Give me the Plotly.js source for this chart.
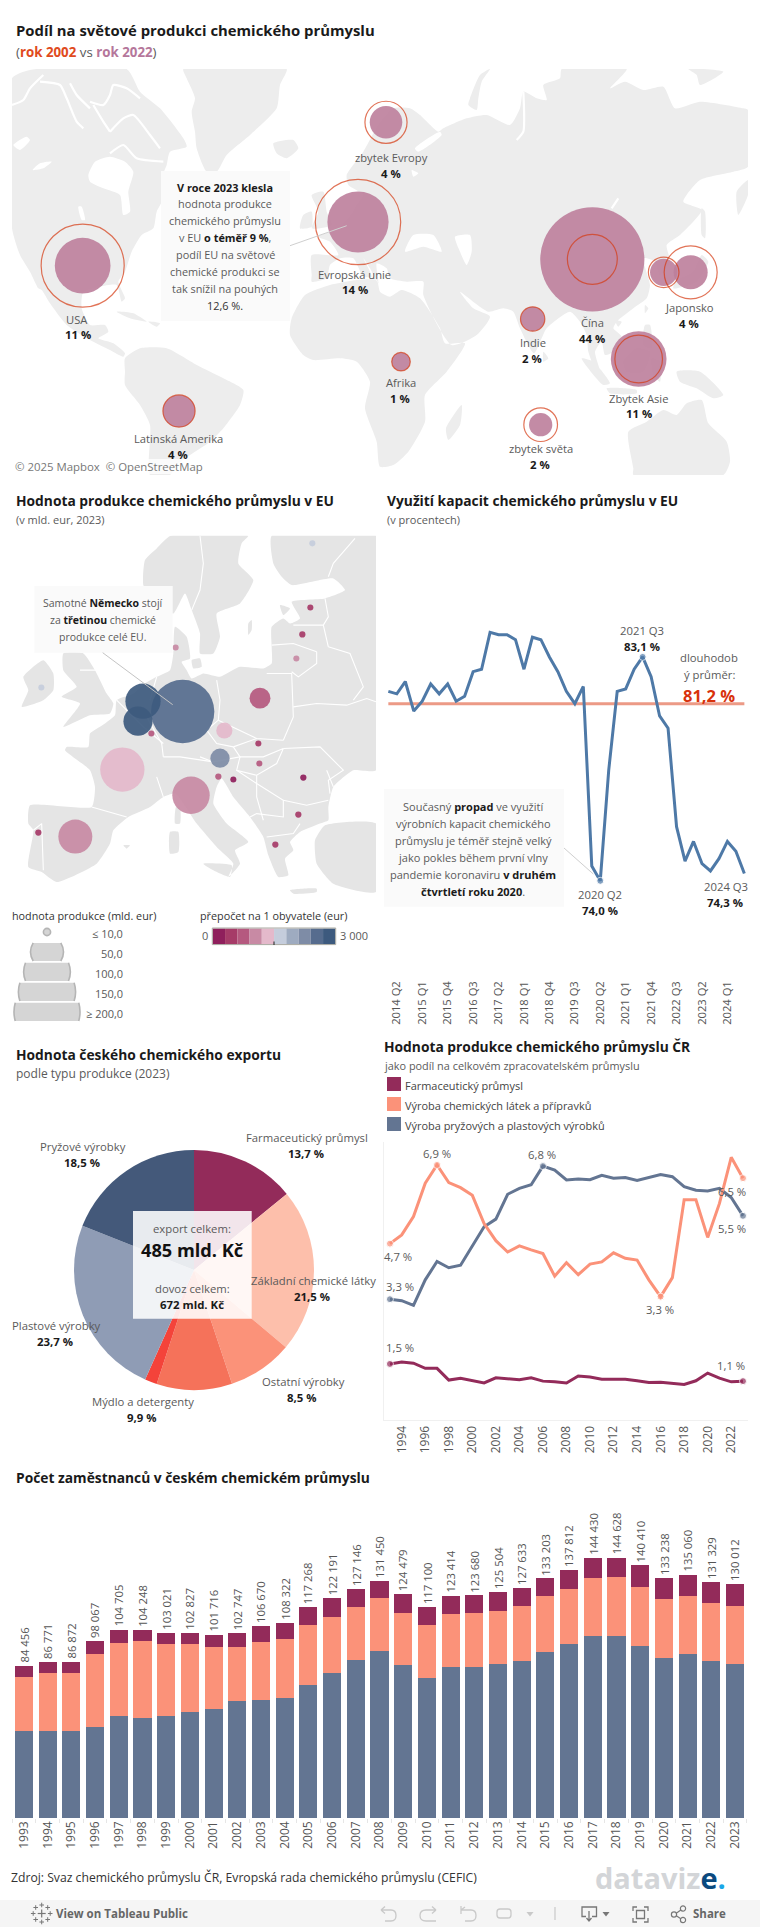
<!DOCTYPE html>
<html><head><meta charset="utf-8">
<script src="https://cdn.plot.ly/plotly-3.0.1.min.js"></script>
<style>html,body{margin:0;padding:0;background:#fff}#c{width:760px;height:1927px}</style></head>
<body><div id="c"></div>
<script>
// ---------- world bubble map data ----------
const world_names = ["USA","Evropská unie","zbytek Evropy","Latinská Amerika","Afrika","Indie","Čína","Korea","Japonsko","Zbytek Asie","zbytek světa"];
const world_x = [218,1044,1128,507,1173,1568,1747,1961,2042,1886,1592];
const world_y = [512,381,82,948,800,672,493,532,532,792,989];
const share_2022 = [12.6,15.2,4.3,4.2,1.4,2.4,44,3,4.7,12.6,2.2];
const share_2002 = [28,29.6,7.2,4.2,1.4,2.4,10.1,3.8,11.4,9.2,4.6];
// basemap outlines
const land_world = [
 [[6,-50],[60,-75],[350,-78],[390,-10],[450,40],[520,130],[530,155],[480,170],[470,210],[455,250],[460,310],[440,350],[430,400],[395,420],[365,470],[345,530],[325,560],[345,610],[335,620],[320,570],[270,575],[220,590],[215,640],[240,690],[285,690],[295,710],[265,730],[310,745],[345,775],[340,785],[300,765],[240,735],[170,690],[120,625],[95,585],[85,580],[60,530],[30,480],[6,400]],
 [[520,-78],[830,-78],[810,-30],[800,40],[720,120],[650,180],[620,230],[590,230],[560,160],[555,110],[545,50],[555,10],[530,-50]],
 [[790,145],[850,135],[865,160],[830,190],[800,175]],
 [[345,790],[390,760],[470,760],[560,810],[640,850],[700,885],[690,930],[640,1000],[600,1040],[540,1080],[500,1110],[480,1140],[420,1140],[420,990],[390,930],[345,870],[345,830]],
 [[905,540],[905,480],[985,480],[960,440],[925,425],[985,400],[1030,350],[1040,330],[1060,300],[1015,270],[1010,240],[1060,170],[1105,90],[1150,40],[1200,40],[1230,60],[1285,110],[1300,100],[1370,70],[1430,60],[1500,90],[1530,40],[1540,-10],[1580,10],[1610,15],[1600,-30],[1650,-50],[1655,-78],[1850,-78],[1800,-20],[1845,-40],[1900,-15],[1960,-25],[1995,40],[2070,20],[2200,40],[2214,45],[2214,215],[2170,230],[2070,255],[2020,320],[2075,345],[2010,420],[1970,450],[1980,500],[1950,540],[1935,500],[1900,490],[1920,570],[1910,610],[1870,640],[1820,680],[1810,700],[1835,725],[1810,770],[1785,780],[1775,740],[1755,770],[1770,830],[1755,820],[1735,770],[1730,720],[1710,680],[1680,650],[1610,700],[1572,775],[1530,700],[1510,650],[1480,640],[1435,650],[1350,590],[1390,640],[1440,665],[1400,720],[1325,750],[1240,600],[1240,560],[1190,560],[1140,550],[1130,520],[1100,505],[1105,565],[1080,520],[1060,490],[1085,545],[1060,545],[1030,490],[990,490],[960,510],[950,550],[905,560]],
 [[1230,610],[1175,585],[1140,605],[1110,590],[1100,555],[1040,555],[960,570],[885,600],[845,670],[840,720],[880,780],[910,795],[990,790],[1040,800],[1080,860],[1065,940],[1100,1040],[1110,1115],[1150,1110],[1195,1070],[1245,980],[1245,900],[1310,830],[1365,745],[1305,745],[1290,700]],
 [[1308,1000],[1355,930],[1350,990],[1315,1035]],
 [[905,300],[940,290],[950,350],[965,390],[905,400],[925,350]],
 [[880,360],[905,350],[905,395],[870,400]],
 [[320,650],[370,655],[410,680],[360,670]],
 [[415,680],[450,685],[440,695]],
 [[1715,790],[1750,800],[1800,865],[1780,870]],
 [[1790,880],[1880,885],[1880,895],[1800,895]],
 [[1840,800],[1880,760],[1920,770],[1900,830],[1850,830]],
 [[1925,790],[1950,800],[1950,860],[1930,840]],
 [[2000,830],[2070,830],[2140,900],[2110,910],[2060,880],[2010,860]],
 [[1905,690],[1920,690],[1925,760],[1900,750]],
 [[1905,630],[1915,640],[1905,655]],
 [[1815,675],[1835,680],[1825,695]],
 [[1600,770],[1615,790],[1600,800]],
 [[2075,480],[2095,500],[2060,560],[1990,580],[1995,560],[2050,530]],
 [[2075,340],[2085,350],[2085,430],[2075,420]],
 [[2214,255],[2180,290],[2185,360],[2214,300]],
 [[1380,10],[1410,-60],[1440,-78],[1415,-40],[1405,10],[1400,45],[1375,30]],
 [[2035,-78],[2140,-70],[2070,-30],[2060,-60]],
 [[1855,1010],[1910,980],[1960,945],[2000,960],[2030,925],[2075,915],[2095,985],[2150,1040],[2160,1100],[2140,1140],[1870,1140],[1870,1120]]
];
const water_world = [
 [[235,240],[255,200],[300,185],[345,200],[370,230],[355,290],[360,350],[340,360],[330,300],[280,280],[240,260]],
 [[1185,470],[1210,420],[1270,420],[1295,470],[1240,455]],
 [[1335,425],[1380,420],[1385,470],[1370,510],[1350,470]],
 [[205,335],[215,335],[225,375],[215,375]],
 [[68,225],[90,205],[125,200],[100,220]],
 [[10,150],[50,125],[60,135],[30,165]],
 [[1205,225],[1225,235],[1210,245]],
 [[1215,160],[1290,110],[1295,120],[1225,170]]
];
const channels_world = [
 [[6,30],[40,15],[60,-20],[100,-60]],
 [[90,-40],[150,-30],[170,10],[200,80],[220,100]],
 [[180,-35],[200,0],[240,40]],
 [[240,20],[280,30],[300,0],[310,-30],[350,-20],[390,10]],
 [[250,30],[280,80],[300,110]],
 [[300,110],[340,70],[370,60],[420,120],[450,160]],
 [[300,175],[340,150],[380,190],[460,200]],
 [[1540,-10],[1540,110],[1520,135]],
 [[1825,310],[1805,340]]
];
// ---------- Europe bubble map data ----------
const eu_x = [548,429,414,454,367,573,226,115,780,673,660,655,700,775,778,910,895,826,931,907,889,527,124,937];
const eu_y = [544,513,573,610,718,795,919,907,504,601,684,739,748,640,700,742,853,943,232,313,385,352,472,40];
const eu_value = [184,57,39,1.7,90,64,53,1.8,20,12,17,1.8,1.7,1.7,1.7,1.8,1.8,1.8,1.7,1.8,1.7,1.7,1.7,1.7];
const eu_per_capita = [2550,2850,2900,750,1350,1050,1050,450,750,1350,2150,750,150,450,750,150,450,450,450,450,1050,1050,1650,1650];
const palette = ["#8F1F5C","#A63B68","#B5597F","#C88AA4","#E4B9CB","#C5CDDC","#9EABC0","#7E8CA6","#566C8E","#3D5A7E"];
const land_eu = [
 [[512,17],[470,55],[435,90],[430,165],[470,230],[520,250],[555,190],[575,240],[600,310],[600,370],[640,370],[660,320],[650,250],[720,220],[760,150],[715,100],[725,40],[745,17]],
 [[815,17],[820,100],[845,140],[875,165],[1000,145],[1035,180],[975,205],[875,215],[900,265],[870,280],[850,265],[815,290],[815,350],[815,400],[790,415],[720,410],[660,440],[610,430],[575,445],[560,420],[545,395],[570,385],[560,320],[525,290],[520,370],[510,420],[470,440],[435,460],[400,490],[350,510],[345,555],[300,590],[270,610],[265,650],[200,650],[195,660],[270,720],[285,770],[275,830],[90,825],[85,880],[100,900],[85,1010],[125,1025],[170,1055],[290,1000],[330,940],[340,900],[385,860],[450,830],[490,800],[525,790],[590,880],[650,950],[700,1000],[685,1040],[720,1000],[705,960],[745,935],[680,880],[640,820],[650,770],[665,745],[700,800],[750,860],[790,920],[805,975],[835,1040],[865,1035],[855,985],[880,960],[870,935],[900,905],[960,880],[985,870],[985,830],[1000,770],[1060,720],[1128,720],[1128,17]],
 [[975,885],[1128,880],[1128,1085],[1000,1060],[950,1000],[945,930]],
 [[190,370],[250,370],[285,420],[320,490],[340,520],[330,550],[270,555],[190,590],[240,520],[185,500],[230,470],[190,420]],
 [[70,440],[130,390],[160,430],[160,480],[130,510],[65,530],[85,480]],
 [[510,905],[535,905],[535,965],[510,970]],
 [[528,830],[540,830],[540,880],[525,880]],
 [[610,1000],[695,1005],[690,1040],[640,1020]],
 [[870,1080],[950,1075],[950,1085],[880,1090]],
 [[745,280],[755,270],[755,300],[745,315]],
 [[840,225],[870,235],[850,255]],
 [[370,945],[390,945],[380,955]],
 [[575,390],[600,385],[605,410],[580,415]]
];
const borders_eu = [
 [[600,17],[610,100],[600,180],[575,240]],
 [[1065,25],[1000,100],[985,140]],
 [[975,205],[985,260],[970,285]],
 [[880,285],[970,285]],
 [[815,345],[880,340],[950,365]],
 [[970,285],[985,350]],
 [[875,425],[895,440],[950,400],[950,365]],
 [[985,350],[1050,370],[1090,470],[1060,510]],
 [[880,530],[950,520],[1040,525],[1100,505],[1128,515]],
 [[800,430],[875,430],[880,560],[850,630]],
 [[650,450],[660,510],[655,570]],
 [[655,570],[720,600],[770,625],[850,630]],
 [[655,570],[620,600],[650,640],[700,650]],
 [[700,650],[770,625]],
 [[700,650],[720,680],[640,695],[600,680]],
 [[720,680],[790,680],[850,655],[830,700],[770,735],[710,720],[720,680]],
 [[850,655],[960,650],[1030,720],[985,750],[990,790]],
 [[850,810],[920,825],[985,810]],
 [[440,560],[485,640],[490,680]],
 [[490,680],[540,680],[640,695]],
 [[470,740],[490,800]],
 [[350,510],[430,590],[490,640]],
 [[470,440],[450,510]],
 [[275,830],[380,860]],
 [[100,900],[125,880],[130,1020]],
 [[710,720],[770,760],[850,810],[850,860],[770,850],[750,860]],
 [[770,735],[770,800],[790,870]],
 [[800,920],[880,910],[900,880]],
 [[980,720],[1000,770]],
 [[240,420],[290,420]]
];
const size_legend_values = [50,100,150,200];
const size_legend_labels = ["≤ 10,0","50,0","100,0","150,0","≥ 200,0"];
// ---------- capacity utilisation ----------
const quarters = ["2014 Q1","2014 Q2","2014 Q3","2014 Q4","2015 Q1","2015 Q2","2015 Q3","2015 Q4","2016 Q1","2016 Q2","2016 Q3","2016 Q4","2017 Q1","2017 Q2","2017 Q3","2017 Q4","2018 Q1","2018 Q2","2018 Q3","2018 Q4","2019 Q1","2019 Q2","2019 Q3","2019 Q4","2020 Q1","2020 Q2","2020 Q3","2020 Q4","2021 Q1","2021 Q2","2021 Q3","2021 Q4","2022 Q1","2022 Q2","2022 Q3","2022 Q4","2023 Q1","2023 Q2","2023 Q3","2023 Q4","2024 Q1","2024 Q2","2024 Q3"];
const capacity = [81.7,81.6,82.1,80.9,81.3,82.0,81.6,82.0,81.3,81.5,82.5,82.6,84.1,84.0,84.0,83.8,82.6,83.9,83.8,83.1,82.5,81.7,81.2,81.9,74.6,74.0,78.5,81.7,81.8,82.6,83.1,82.3,80.7,80.2,76.2,74.8,75.6,74.7,74.4,74.9,75.6,75.2,74.3];
const capacity_avg = 81.2;
const capacity_marked = ["2020 Q2","2021 Q3"];
const quarter_ticks = ["2014 Q2","2015 Q1","2015 Q4","2016 Q3","2017 Q2","2018 Q1","2018 Q4","2019 Q3","2020 Q2","2021 Q1","2021 Q4","2022 Q3","2023 Q2","2024 Q1"];
// ---------- Czech share of manufacturing ----------
const years_share = [1993,1994,1995,1996,1997,1998,1999,2000,2001,2002,2003,2004,2005,2006,2007,2008,2009,2010,2011,2012,2013,2014,2015,2016,2017,2018,2019,2020,2021,2022,2023];
const share_chem = [4.75,4.99,5.49,6.40,6.90,6.42,6.28,6.07,5.30,4.83,4.52,4.69,4.58,4.48,3.86,4.23,3.90,4.19,4.25,4.50,4.35,4.30,3.76,3.30,3.82,5.95,5.95,4.92,5.85,7.11,6.54];
const share_rubber = [3.23,3.19,3.06,3.76,4.26,4.09,4.16,4.67,5.21,5.42,6.10,6.26,6.36,6.87,6.76,6.49,6.52,6.50,6.62,6.54,6.56,6.48,6.57,6.64,6.58,6.31,6.21,6.19,6.26,6.01,5.51];
const share_pharma = [1.46,1.51,1.48,1.34,1.34,1.02,1.07,1.00,0.94,1.08,1.06,1.03,1.08,0.99,0.97,0.94,1.13,1.10,1.04,1.03,1.04,1.00,0.95,0.96,0.92,0.90,1.00,1.21,1.07,0.97,0.99];
const marked_chem = [1993,1997,2016,2023], marked_rubber = [1993,2006,2023], marked_pharma = [1993,2023];
const tick_years = [1994,1996,1998,2000,2002,2004,2006,2008,2010,2012,2014,2016,2018,2020,2022];
// ---------- export pie ----------
const pie_labels = ["Farmaceutický průmysl","Základní chemické látky","Ostatní výrobky","Mýdlo a detergenty","(bez popisku)","Plastové výrobky","Pryžové výrobky"];
const pie_values = [13.7,21.5,8.5,9.9,1.6,23.7,18.5];
const pie_colors = ["#932B5A","#FDBFAB","#FB9279","#F5725A","#F4433A","#8F9CB5","#44597A"];
// ---------- employees ----------
const years_emp = ["1993","1994","1995","1996","1997","1998","1999","2000","2001","2002","2003","2004","2005","2006","2007","2008","2009","2010","2011","2012","2013","2014","2015","2016","2017","2018","2019","2020","2021","2022","2023"];
const emp_total = [84456,86771,86872,98067,104705,104248,103021,102827,101716,102747,106670,108322,117268,122191,127146,131450,124479,117100,123414,123680,125504,127633,133203,137812,144430,144628,140410,133238,135060,131329,130012];
const emp_rubber = [48330,48330,48330,50560,56670,55560,56670,58890,60560,65000,65560,66670,73890,80560,87780,92780,85000,77780,83890,83890,85560,87220,92220,96670,101110,101110,95560,88890,91110,87220,85560];
const emp_chem = [30000,32220,32220,40560,40560,42780,40000,37780,34440,30000,32220,32780,33330,31110,29440,29440,28890,29440,29440,30000,29440,30560,31110,30560,32220,32780,32780,32780,32220,32220,32220];
const emp_pharma = [6126,6221,6322,6947,7475,5908,6351,6157,6716,7747,8890,8872,10048,10521,9926,9230,10589,9880,10084,9790,10504,9853,9873,10582,11100,10738,12070,11568,11730,11889,12232];

// ---------- helpers ----------
const W=760,H=1927;
const FONT='"Open Sans", "Noto Sans", sans-serif';
const C={txt:'#5a5a5a',dark:'#1a1a1a',purple:'#932B5A',salmon:'#FB9279',blue:'#637592',line:'#4E79A7',red:'#D63A12'};
const xd=(a,b)=>[a/W,b/W], yd=(a,b)=>[1-b/H,1-a/H];
const flat=(polys,i)=>{const o=[];polys.forEach(p=>{p.forEach(q=>o.push(q[i]));o.push(p[0][i]);o.push(null);});return o;};
const flatLine=(polys,i)=>{const o=[];polys.forEach(p=>{p.forEach(q=>o.push(q[i]));o.push(null);});return o;};
const fmt=n=>String(n).replace(/\B(?=(\d{3})+$)/g,' ');
const ann=[],shp=[];
function t(text,x,y,o={}){const a=o.a||'center';const dx=a==='left'?-3:a==='right'?3:0;
 ann.push(Object.assign({text,x:x+dx,y,xref:'x9',yref:'y9',showarrow:false,xanchor:a,yanchor:'middle',align:a,
  font:{size:o.s||11.3,color:o.c||C.txt,family:FONT}},o.extra||{}));}
const b=(s,c)=>`<b><span style="color:${c||C.dark}">${s}</span></b>`;
function rect(x0,y0,x1,y1,fill,line){shp.push({type:'rect',xref:'x9',yref:'y9',x0,y0,x1,y1,fillcolor:fill,line:line||{width:0},layer:'above'});}
function seg(x0,y0,x1,y1,c,w){shp.push({type:'line',xref:'x9',yref:'y9',x0,y0,x1,y1,line:{color:c,width:w||1},layer:'above'});}
function path(d,c,w,fill){shp.push({type:'path',xref:'x9',yref:'y9',path:d,line:{color:c,width:w===undefined?1.3:w},fillcolor:fill||'rgba(0,0,0,0)',layer:'above'});}

// ---------- traces ----------
const traces=[];
traces.push({type:'scatter',x:[0],y:[0],mode:'none',xaxis:'x9',yaxis:'y9',hoverinfo:'skip',showlegend:false});
const base=(x,y,ax,ay,o)=>Object.assign({type:'scatter',x,y,xaxis:ax,yaxis:ay,hoverinfo:'skip',showlegend:false},o);
// world
traces.push(base(flat(land_world,0),flat(land_world,1),'x','y',{mode:'lines',fill:'toself',fillcolor:'#EDEDED',line:{width:0,color:'#EDEDED',shape:'spline',smoothing:.6}}));
traces.push(base(flat(water_world,0),flat(water_world,1),'x','y',{mode:'lines',fill:'toself',fillcolor:'#fff',line:{width:0,color:'#fff',shape:'spline',smoothing:.6}}));
traces.push(base(flatLine(channels_world,0),flatLine(channels_world,1),'x','y',{mode:'lines',line:{width:2.2,color:'#fff',shape:'spline',smoothing:.6}}));
const REFW=2/(15.7*15.7), REFE=2/(4.67*4.67);
traces.push(base(world_x,world_y,'x','y',{mode:'markers',marker:{size:share_2022,sizemode:'area',sizeref:REFW,color:'#BD7E9B',opacity:.9,line:{width:0}}}));
traces.push(base(world_x,world_y,'x','y',{mode:'markers',marker:{size:share_2002,sizemode:'area',sizeref:REFW,color:'rgba(0,0,0,0)',line:{width:1.2,color:C.red}}}));
// Europe
traces.push(base(flat(land_eu,0),flat(land_eu,1),'x2','y2',{mode:'lines',fill:'toself',fillcolor:'#E5E5E5',line:{width:0,color:'#E5E5E5',shape:'spline',smoothing:.5}}));
traces.push(base(flatLine(borders_eu,0),flatLine(borders_eu,1),'x2','y2',{mode:'lines',line:{width:1.1,color:'#fff'}}));
traces.push(base(eu_x,eu_y,'x2','y2',{mode:'markers',marker:{size:eu_value,sizemode:'area',sizeref:REFE,color:eu_per_capita.map(v=>palette[Math.min(9,Math.floor(v/300))]),opacity:.92,line:{width:0}}}));
// capacity
traces.push(base([quarters[0],quarters[quarters.length-1]],[capacity_avg,capacity_avg],'x3','y3',{mode:'lines',line:{color:'#EC9A86',width:3}}));
traces.push(base(quarters,capacity,'x3','y3',{mode:'lines+markers',line:{color:C.line,width:3},marker:{color:C.line,size:quarters.map(q=>capacity_marked.includes(q)?7:0)}}));
// share lines
const sizes=m=>years_share.map(y=>m.includes(y)?7:0);
traces.push(base(years_share,share_pharma,'x4','y4',{mode:'lines+markers',line:{color:C.purple,width:3},marker:{color:C.purple,size:sizes(marked_pharma)}}));
traces.push(base(years_share,share_rubber,'x4','y4',{mode:'lines+markers',line:{color:C.blue,width:3},marker:{color:C.blue,size:sizes(marked_rubber)}}));
traces.push(base(years_share,share_chem,'x4','y4',{mode:'lines+markers',line:{color:C.salmon,width:3},marker:{color:C.salmon,size:sizes(marked_chem)}}));
// bars
[[emp_rubber,C.blue],[emp_chem,C.salmon],[emp_pharma,C.purple]].forEach(s=>{
 traces.push({type:'bar',x:years_emp,y:s[0],xaxis:'x5',yaxis:'y5',marker:{color:s[1],line:{width:0}},hoverinfo:'skip',showlegend:false});
});
// pie
traces.push({type:'pie',values:pie_values,labels:pie_labels,sort:false,direction:'clockwise',rotation:0,textinfo:'none',hoverinfo:'skip',showlegend:false,
 marker:{colors:pie_colors,line:{width:0}},domain:{x:xd(74,314),y:yd(1150,1390)}});

// ---------- text ----------
const TS=13.8;
t('<b>Podíl na světové produkci chemického průmyslu</b>',16.5,30,{a:'left',s:14.85,c:C.dark});
t(`(<b><span style="color:#E04A20">rok 2002</span></b> vs <b><span style="color:#B5779B">rok 2022</span></b>)`,16.5,51.7,{a:'left',s:13.3});
t('<b>Hodnota produkce chemického průmyslu v EU</b>',16.5,500.7,{a:'left',s:TS,c:C.dark});
t('(v mld. eur, 2023)',16.5,519.3,{a:'left',s:11});
t('<b>Využití kapacit chemického průmyslu v EU</b>',388.3,500.7,{a:'left',s:TS,c:C.dark});
t('(v procentech)',388.3,519.3,{a:'left',s:11});
t('<b>Hodnota českého chemického exportu</b>',16.5,1054,{a:'left',s:TS,c:C.dark});
t('podle typu produkce (2023)',16.5,1073,{a:'left',s:12});
t('<b>Hodnota produkce chemického průmyslu ČR</b>',384.7,1046.7,{a:'left',s:TS,c:C.dark});
t('jako podíl na celkovém zpracovatelském průmyslu',384.7,1065,{a:'left',s:10.9});
t('<b>Počet zaměstnanců v českém chemickém průmyslu</b>',16.5,1477.7,{a:'left',s:TS,c:C.dark});
t('Zdroj: Svaz chemického průmyslu ČR, Evropská rada chemického průmyslu (CEFIC)',12.3,1877.7,{a:'left',s:12.2,c:'#333'});
// world labels
[["USA","11 %",76.7,319,77.7],["Evropská unie","14 %",354.7,274,354.7],["zbytek Evropy","4 %",391.7,157.3,391.3],["Latinská Amerika","4 %",178.7,438.3,178],["Afrika","1 %",400.7,382.3,400.3],["Indie","2 %",533,342.3,532.3],["Čína","44 %",592.3,322.3,591.7],["Japonsko","4 %",689.3,307.3,689],["Zbytek Asie","11 %",638,398,638.7],["zbytek světa","2 %",540.7,448.3,540.3]].forEach(r=>{
 t(r[0],r[2],r[3],{s:11.2});t('<b>'+r[1]+'</b>',r[4],r[3]+15.8,{s:11.4,c:C.dark});
});
rect(13,459,204,474,'rgba(255,255,255,.75)');
t('© 2025 Mapbox  © OpenStreetMap',16,466,{a:'left',s:11.4,c:'#777'});
rect(161,171,290,321,'rgba(250,250,250,.97)');
seg(290,245.7,346.7,225.7,'#cfcfcf',1);
[[`<b>V roce 2023 klesla</b>`,187,C.dark],['hodnota produkce',203.3],['chemického průmyslu',220.3],[`v EU ${b('o téměř 9 %')},`,237.3],['podíl EU na světové',254.3],['chemické produkci se',271.3],['tak snížil na pouhých',288.3],['12,6 %.',305,'#333']].forEach(r=>t(r[0],225,r[1],{s:10.9,c:r[2]}));
// Europe callout and legends
rect(34.3,586,172.7,652.7,'rgba(250,250,250,.97)');
seg(102.7,652.7,172.7,704.7,'#c4c4c4',1);
[[`Samotné ${b('Německo')} stojí`,603],[`za ${b('třetinou')} chemické`,620],['produkce celé EU.',637]].forEach(r=>t(r[0],102.7,r[1],{s:10.5}));
t('hodnota produkce (mld. eur)',84.3,915.3,{s:10.8,c:'#333'});
t('přepočet na 1 obyvatele (eur)',273.3,915.3,{s:10.8,c:'#333'});
const cx=47, bandY=[[942.9,961],[962.8,981],[982.8,1001],[1002.8,1021]];
shp.push({type:'circle',xref:'x9',yref:'y9',x0:cx-3.6,x1:cx+3.6,y0:928.4,y1:935.6,fillcolor:'#d5d5d5',line:{color:'#b5b5b5',width:1.6},layer:'above'});
size_legend_values.forEach((v,i)=>{
 const r=4.67*Math.sqrt(v)/2,[y0,y1]=bandY[i],h=(y1-y0)/2,c=Math.sqrt(r*r-h*h),ym=(y0+y1)/2;
 const cr=2*(cx+r)-(cx+c), cl=2*(cx-r)-(cx-c);
 path(`M ${cx-c} ${y0} L ${cx+c} ${y0} Q ${cr} ${ym} ${cx+c} ${y1} L ${cx-c} ${y1} Q ${cl} ${ym} ${cx-c} ${y0} Z`,'#d5d5d5',0,'#d5d5d5');
 path(`M ${cx+c} ${y0} Q ${cr} ${ym} ${cx+c} ${y1}`,'#b5b5b5',1.6);
 path(`M ${cx-c} ${y0} Q ${cl} ${ym} ${cx-c} ${y1}`,'#b5b5b5',1.6);
});
const lY=[933.2,953.2,973.2,993.1,1013.1];
size_legend_labels.forEach((l,i)=>t(l,122.3,lY[i],{a:'right',s:11}));
palette.forEach((c,i)=>rect(212.8+i*12.25,928.5,212.8+(i+1)*12.25,944.2,c));
rect(212.3,928,335.7,944.6,'rgba(0,0,0,0)',{color:'#a8a8a0',width:1});
seg(274,941.5,274,945,'#222',1);
t('0',205,935,{s:11});t('3 000',353.7,935,{s:11});
// capacity labels
t('2021 Q3',642.3,630.2);t('<b>83,1 %</b>',642.3,646,{s:11.4,c:C.dark});
t('dlouhodob',709.3,657.4);t('ý průměr:',709.3,674.2);t('<b>81,2 %</b>',708.5,695,{s:16.5,c:'#D8320C'});
t('2020 Q2',599.7,894);t('<b>74,0 %</b>',599.7,910,{s:11.4,c:C.dark});
t('2024 Q3',725.7,886);t('<b>74,3 %</b>',725.3,902,{s:11.4,c:C.dark});
rect(384,789,564,906.7,'rgba(250,250,250,.97)');
seg(564,848,593.3,874,'#cfcfcf',1);
[[`Současný ${b('propad')} ve využití`,806],['výrobních kapacit chemického',823.4],['průmyslu je téměř stejně velký',840.2],['jako pokles během první vlny',857.1],[`pandemie koronaviru ${b('v druhém')}`,874.3],[`${b('čtvrtletí roku 2020')}.`,891.2]].forEach(r=>t(r[0],473.3,r[1],{s:11}));
// share legend + labels
[['Farmaceutický průmysl',C.purple,1077,1085],['Výroba chemických látek a přípravků',C.salmon,1097,1105],['Výroba pryžových a plastových výrobků',C.blue,1117,1125]].forEach(r=>{
 rect(387,r[2],401,r[2]+14,r[1]);t(r[0],406.3,r[3],{a:'left',s:10.95,c:'#444'});
});
[['6,9 %',437,1153.3],['4,7 %',398.3,1256],['3,3 %',400,1286],['1,5 %',400,1347],['6,8 %',542,1154.3],['3,3 %',660,1309.3],['6,5 %',732,1191.3],['5,5 %',732,1228.3],['1,1 %',731,1365]].forEach(r=>t(r[0],r[1],r[2]));
// pie labels
[['Farmaceutický průmysl','13,7 %',307,1137.3],['Základní chemické látky','21,5 %',313.3,1280.3],['Ostatní výrobky','8,5 %',303.3,1381.3],['Mýdlo a detergenty','9,9 %',142.7,1401.3],['Plastové výrobky','23,7 %',56.3,1325.3],['Pryžové výrobky','18,5 %',82.7,1146.3]].forEach(r=>{
 t(r[0],r[2],r[3]);t('<b>'+r[1]+'</b>',r[2]-1,r[3]+15.8,{s:11.4,c:C.dark});
});
rect(133,1211,251.7,1318.7,'rgba(255,255,255,.88)');
t('export celkem:',192,1228.3);t('<b>485 mld. Kč</b>',192,1250,{s:18.2,c:'#111'});
t('dovoz celkem:',192,1288.3);t('<b>672 mld. Kč</b>',191.7,1304,{s:11.4,c:C.dark});
// employees totals
years_emp.forEach((y,i)=>ann.push({text:fmt(emp_total[i]),x:i,y:emp_total[i],xref:'x5',yref:'y5',showarrow:false,textangle:-90,xanchor:'center',yanchor:'bottom',yshift:1,font:{size:11.3,color:'#555',family:FONT}}));
// logo
t(`<b>dataviz<span style="color:#0B4A7F">e</span><span style="color:#1AA7E8">.</span></b>`,660.7,1877,{s:29,c:'#D3D5D8'});
// footer
rect(0,1900,760,1927,'#F5F5F5');
const ic='#c9c9c9',id='#777';
[[0,8.5],[0,-8.5],[8.5,0],[-8.5,0],[6,6],[-6,6],[6,-6],[-6,-6]].forEach(o=>{
 const x=41.7+o[0],y=1913.5+o[1];seg(x-2.3,y,x+2.3,y,id,1);seg(x,y-2.3,x,y+2.3,id,1);
});
seg(37.7,1913.5,45.7,1913.5,id,1.2);seg(41.7,1909.5,41.7,1917.5,id,1.2);
path('M 381 1910 L 391 1910 Q 396 1910 396 1915.5 Q 396 1921 391 1921 L 385 1921 M 381 1910 L 385 1906.5 M 381 1910 L 385 1913.5',ic);
path('M 436 1910 L 426 1910 Q 420 1910 420 1915.5 Q 420 1921 426 1921 L 436 1921 M 436 1910 L 432 1906.5 M 436 1910 L 432 1913.5',ic);
path('M 461 1910 L 471 1910 Q 476 1910 476 1915.5 Q 476 1921 471 1921 L 465 1921 M 461 1906 L 461 1914 M 461 1910 L 465 1907',ic);
path('M 500 1909 L 508 1909 Q 511 1909 511 1912 L 511 1915 Q 511 1918 508 1918 L 500 1918 Q 497 1918 497 1915 L 497 1912 Q 497 1909 500 1909 Z',ic);
path('M 526.5 1912 L 533.5 1912 L 530 1916.5 Z',ic,0,ic);
seg(555,1907,555,1920,ic,1.2);
path('M 586 1916.5 L 582 1916.5 L 582 1907 L 596.5 1907 L 596.5 1916.5 L 592 1916.5 M 589 1911 L 589 1921 M 586.5 1918 L 589 1921 L 591.5 1918',id);
path('M 602.5 1912 L 609.5 1912 L 606 1916.5 Z',id,0,id);
path('M 633 1911 L 633 1907 L 637 1907 M 644 1907 L 648 1907 L 648 1911 M 648 1918 L 648 1922 L 644 1922 M 637 1922 L 633 1922 L 633 1918 M 636.5 1910.5 L 644.5 1910.5 L 644.5 1918.5 L 636.5 1918.5 Z',id);
[[683,1908.5],[674,1914.5],[683,1920]].forEach(p=>shp.push({type:'circle',xref:'x9',yref:'y9',x0:p[0]-2.6,x1:p[0]+2.6,y0:p[1]-2.6,y1:p[1]+2.6,line:{color:id,width:1.2},layer:'above'}));
seg(676.3,1913.2,680.8,1910,id,1.1);seg(676.3,1915.8,680.8,1918.8,id,1.1);
t('<b>View on Tableau Public</b>',121.7,1913.7,{s:11.5,c:'#666'});
t('<b>Share</b>',709.3,1913.7,{s:11.5,c:'#666'});

// ---------- axes ----------
const hid={visible:false,fixedrange:true,showgrid:false,zeroline:false};
const layout={width:W,height:H,margin:{l:0,r:0,t:0,b:0},autosize:false,paper_bgcolor:'#fff',plot_bgcolor:'rgba(0,0,0,0)',showlegend:false,font:{family:FONT},
 barmode:'stack',bargap:.24,annotations:ann,shapes:shp,
 xaxis9:Object.assign({},hid,{domain:[0,1],range:[0,W],anchor:'y9'}),yaxis9:Object.assign({},hid,{domain:[0,1],range:[H,0],anchor:'x9'}),
 xaxis:Object.assign({},hid,{domain:xd(12,748),range:[6,2214],anchor:'y'}),yaxis:Object.assign({},hid,{domain:yd(69,475),range:[1140,-78],anchor:'x'}),
 xaxis2:Object.assign({},hid,{domain:xd(12,376),range:[36,1128],anchor:'y2'}),yaxis2:Object.assign({},hid,{domain:yd(535.7,897),range:[1100,17],anchor:'x2'}),
 xaxis3:{domain:xd(384.1,748.6),anchor:'y3',type:'category',categoryorder:'array',categoryarray:quarters,range:[-0.5,42.5],tickmode:'array',tickvals:quarter_ticks,ticktext:quarter_ticks,tickangle:-90,showgrid:false,zeroline:false,showline:false,ticks:'',tickfont:{size:11.2,color:'#555',family:FONT},fixedrange:true},
 yaxis3:Object.assign({},hid,{domain:yd(590,978),range:[70.05,85.82],anchor:'x3'}),
 xaxis4:{domain:xd(384.3,747.7),anchor:'y4',range:[1992.52,2023.4],tickmode:'array',tickvals:tick_years,ticktext:tick_years.map(String),tickangle:-90,showgrid:false,zeroline:false,showline:true,linecolor:'#f0f0f0',linewidth:1,ticks:'',tickfont:{size:12,color:'#555',family:FONT},fixedrange:true},
 yaxis4:{domain:yd(1141.7,1420),anchor:'x4',visible:true,showticklabels:false,showgrid:false,zeroline:false,showline:true,linecolor:'#f0f0f0',ticks:'',fixedrange:true},
 xaxis5:{domain:xd(12.15,746.85),anchor:'y5',type:'category',range:[-0.5,30.5],tickangle:-90,tickson:'boundaries',ticks:'outside',ticklen:4,tickcolor:'#e6e6e6',showgrid:false,zeroline:false,showline:false,tickfont:{size:12,color:'#555',family:FONT},dtick:1,fixedrange:true},
 yaxis5:Object.assign({},hid,{domain:yd(1520,1818),range:[0,165556],anchor:'x5'})
};
// y4: 6.9 at y=1165, 36.57 px per unit
layout.yaxis4.range=[6.9-(1420-1165)/36.57, 6.9+(1165-1141.7)/36.57];
Plotly.newPlot('c',traces,layout,{staticPlot:true,displayModeBar:false});
</script></body></html>
